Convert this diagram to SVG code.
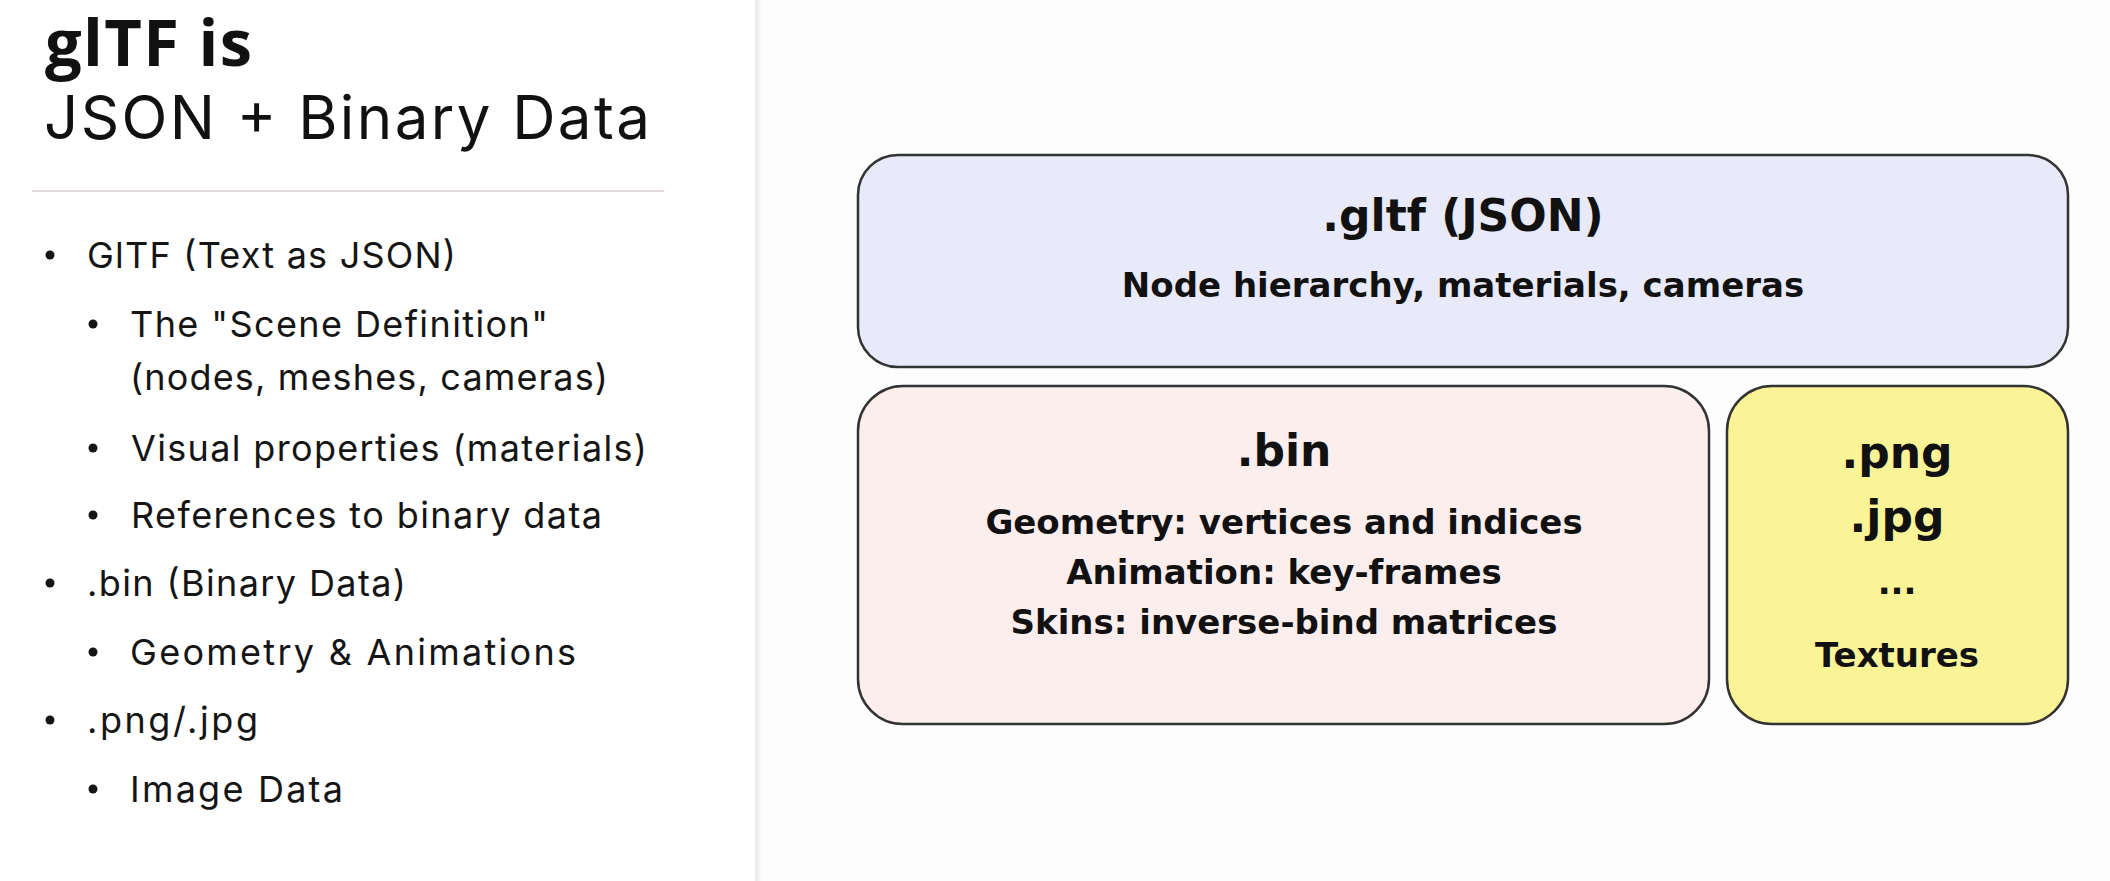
<svg xmlns="http://www.w3.org/2000/svg" width="2110" height="881" viewBox="0 0 2110 881">
  <defs>
    <linearGradient id="divider" x1="0" y1="0" x2="1" y2="0">
      <stop offset="0" stop-color="#e9e9e9"/>
      <stop offset="1" stop-color="#fbfbfb"/>
    </linearGradient>
    <style>
      .title-b { font-family: "Open Sans", "Liberation Sans", sans-serif; font-weight: 700; font-size: 65px; fill: #111; }
      .title-r { font-family: Inter, "Open Sans", "Liberation Sans", sans-serif; font-weight: 400; font-size: 60px; fill: #111; }
      .body { font-family: Inter, "Open Sans", "Liberation Sans", sans-serif; font-weight: 400; font-size: 36px; fill: #151515; }
      .dot { fill: #151515; }
      .box { stroke: #333; stroke-width: 2.5; }
      .h { font-family: "DejaVu Sans", "Liberation Sans", sans-serif; font-weight: 700; font-size: 44px; fill: #111; text-anchor: middle; }
      .t { font-family: "DejaVu Sans", "Liberation Sans", sans-serif; font-weight: 700; font-size: 34px; fill: #111; text-anchor: middle; }
    </style>
  </defs>

  <rect x="0" y="0" width="2110" height="881" fill="#ffffff"/>
  <rect x="755" y="0" width="1355" height="881" fill="#fdfdfd"/>
  <rect x="755" y="0" width="7" height="881" fill="url(#divider)"/>

  <g id="title">
    <text class="title-b" x="45" y="66" textLength="207" lengthAdjust="spacing">glTF is</text>
    <text class="title-r" x="44" y="139" textLength="606" lengthAdjust="spacing">JSON + Binary Data</text>
    <line x1="32" y1="191" x2="664" y2="191" stroke="#e3dadd" stroke-width="2"/>
  </g>

  <g id="bullets">
    <circle class="dot" cx="50" cy="255" r="4.5"/>
    <text class="body" x="87" y="268" textLength="369" lengthAdjust="spacing">GlTF (Text as JSON)</text>
    <circle class="dot" cx="93" cy="324" r="4.5"/>
    <text class="body" x="130" y="337" textLength="418" lengthAdjust="spacing">The "Scene Definition"</text>
    <text class="body" x="130" y="390" textLength="478" lengthAdjust="spacing">(nodes, meshes, cameras)</text>
    <circle class="dot" cx="93" cy="448" r="4.5"/>
    <text class="body" x="131" y="461" textLength="516" lengthAdjust="spacing">Visual properties (materials)</text>
    <circle class="dot" cx="93" cy="515" r="4.5"/>
    <text class="body" x="131" y="528" textLength="471" lengthAdjust="spacing">References to binary data</text>
    <circle class="dot" cx="50" cy="583" r="4.5"/>
    <text class="body" x="87" y="596" textLength="319" lengthAdjust="spacing">.bin (Binary Data)</text>
    <circle class="dot" cx="93" cy="652" r="4.5"/>
    <text class="body" x="130" y="665" textLength="446" lengthAdjust="spacing">Geometry &amp; Animations</text>
    <circle class="dot" cx="50" cy="720" r="4.5"/>
    <text class="body" x="87" y="733" textLength="171" lengthAdjust="spacing">.png/.jpg</text>
    <circle class="dot" cx="93" cy="789" r="4.5"/>
    <text class="body" x="130" y="802" textLength="213" lengthAdjust="spacing">Image Data</text>
  </g>

  <g id="connectors"></g>

  <g id="node-gltf">
    <rect class="box" x="858" y="155" width="1210" height="212" rx="40" ry="40" fill="#e8e9f9"/>
    <text class="h" x="1463" y="231">.gltf (JSON)</text>
    <text class="t" x="1463" y="297">Node hierarchy, materials, cameras</text>
  </g>

  <g id="node-bin">
    <rect class="box" x="858" y="386" width="851" height="338" rx="45" ry="45" fill="#fdeeee"/>
    <text class="h" x="1284" y="466">.bin</text>
    <text class="t" x="1284" y="534">Geometry: vertices and indices</text>
    <text class="t" x="1284" y="584">Animation: key-frames</text>
    <text class="t" x="1284" y="634">Skins: inverse-bind matrices</text>
  </g>

  <g id="node-textures">
    <rect class="box" x="1727" y="386" width="341" height="338" rx="45" ry="45" fill="#faf497"/>
    <text class="h" x="1897" y="468">.png</text>
    <text class="h" x="1897" y="532">.jpg</text>
    <text class="t" x="1897" y="594">...</text>
    <text class="t" x="1897" y="667">Textures</text>
  </g>
</svg>
